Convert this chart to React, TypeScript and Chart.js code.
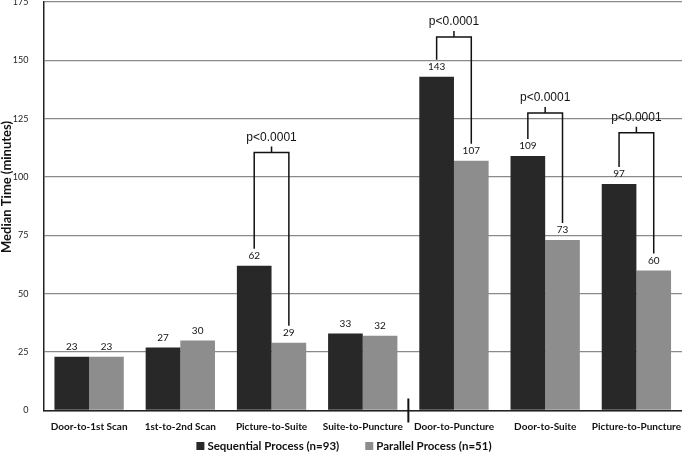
import React, { useEffect, useRef } from "react";
import { Chart, registerables } from "chart.js";

Chart.register(...registerables);

const categories = [
  "Door-to-1st Scan",
  "1st-to-2nd Scan",
  "Picture-to-Suite",
  "Suite-to-Puncture",
  "Door-to-Puncture",
  "Door-to-Suite",
  "Picture-to-Puncture",
];
const sequentialValues = [23, 27, 62, 33, 143, 109, 97];
const parallelValues = [23, 30, 29, 32, 107, 73, 60];
const seriesLabels = ["Sequential Process (n=93)", "Parallel Process (n=51)"];
const pValueLabels = ["", "", "p<0.0001", "", "p<0.0001", "p<0.0001", "p<0.0001"];
const bracketTops = [null, null, 110.5, null, 160, 127.5, 119];
const yTitle = "Median Time (minutes)";

const DARK = "#282828";
const LIGHT = "#8d8d8d";
const FONT = "Lato, 'Open Sans', sans-serif";
const SANS = "'Liberation Sans', Arial, sans-serif";

const annotationsPlugin = {
  id: "annotations",
  afterDatasetsDraw(chart: any) {
    const ctx = chart.ctx;
    const m0 = chart.getDatasetMeta(0);
    const m1 = chart.getDatasetMeta(1);
    const yScale = chart.scales.y;
    const xScale = chart.scales.x;
    ctx.save();
    // value labels
    ctx.fillStyle = "#111";
    ctx.font = `10px ${FONT}`;
    ctx.textAlign = "center";
    ctx.textBaseline = "middle";
    [m0, m1].forEach((meta: any, di: number) => {
      meta.data.forEach((bar: any, i: number) => {
        const v = chart.data.datasets[di].data[i];
        ctx.fillText(String(v), bar.x, bar.y - 10);
      });
    });
    // brackets
    ctx.strokeStyle = "#111";
    ctx.lineWidth = 1.5;
    bracketTops.forEach((top, i) => {
      if (top == null) return;
      const yTop = yScale.getPixelForValue(top);
      const b0 = m0.data[i];
      const b1 = m1.data[i];
      ctx.beginPath();
      ctx.moveTo(b0.x, b0.y - 17);
      ctx.lineTo(b0.x, yTop);
      ctx.lineTo(b1.x, yTop);
      ctx.lineTo(b1.x, b1.y - 17);
      const cx = (b0.x + b1.x) / 2;
      ctx.moveTo(cx, yTop);
      ctx.lineTo(cx, yTop - 6);
      ctx.stroke();
      ctx.fillStyle = "#111";
      ctx.font = `12px ${SANS}`;
      ctx.fillText(pValueLabels[i], cx, yTop - 15);
    });
    // separator mark between groups
    const sx = (xScale.getPixelForValue(3) + xScale.getPixelForValue(4)) / 2;
    const bottom = chart.chartArea.bottom;
    ctx.lineWidth = 2;
    ctx.beginPath();
    ctx.moveTo(sx, bottom - 12);
    ctx.lineTo(sx, bottom + 12);
    ctx.stroke();
    ctx.restore();
  },
  afterDraw(chart: any) {
    const ctx = chart.ctx;
    ctx.save();
    // y axis title
    ctx.font = `bold 13px ${FONT}`;
    ctx.fillStyle = "#111";
    ctx.textAlign = "center";
    ctx.textBaseline = "middle";
    ctx.translate(7, 187);
    ctx.rotate(-Math.PI / 2);
    ctx.fillText(yTitle, 0, 0);
    ctx.restore();

    // legend
    ctx.save();
    ctx.font = `bold 11.5px ${FONT}`;
    ctx.textBaseline = "middle";
    ctx.textAlign = "left";
    const box = 8;
    const gapText = 3;
    const gapItem = 26;
    const colors = [DARK, LIGHT];
    const widths = seriesLabels.map((t) => ctx.measureText(t).width);
    const total = widths.reduce((a, w) => a + box + gapText + w, 0) + gapItem;
    let x = chart.width / 2 + 3 - total / 2;
    const cy = 446;
    seriesLabels.forEach((t, i) => {
      ctx.fillStyle = colors[i];
      ctx.fillRect(x, cy - box / 2, box, box);
      ctx.fillStyle = "#111";
      ctx.fillText(t, x + box + gapText, cy + 0.5);
      x += box + gapText + widths[i] + gapItem;
    });
    ctx.restore();
  },
};

export default function App() {
  const ref = useRef<HTMLCanvasElement>(null);
  useEffect(() => {
    document.body.style.margin = "0";
    const chart = new Chart(ref.current as HTMLCanvasElement, {
      type: "bar",
      data: {
        labels: categories,
        datasets: [
          {
            label: seriesLabels[0],
            data: sequentialValues,
            backgroundColor: DARK,
            categoryPercentage: 0.76,
            barPercentage: 1,
          },
          {
            label: seriesLabels[1],
            data: parallelValues,
            backgroundColor: LIGHT,
            categoryPercentage: 0.76,
            barPercentage: 1,
          },
        ],
      },
      options: {
        animation: false,
        responsive: false,
        devicePixelRatio: 1,
        layout: { padding: { top: 2, right: 0, bottom: 22, left: 0 } },
        plugins: {
          legend: { display: false },
          tooltip: { enabled: false },
        },
        scales: {
          x: {
            grid: { display: false, drawTicks: false },
            border: { display: true, color: "#222", width: 1.5 },
            ticks: {
              color: "#111",
              font: { family: FONT, size: 10, weight: "bold" },
              padding: 10,
              maxRotation: 0,
              minRotation: 0,
              autoSkip: false,
            },
            afterFit(scale: any) {
              scale.height = 25.5;
              scale.paddingLeft = 0;
              scale.paddingRight = 0;
            },
          },
          y: {
            min: 0,
            max: 175,
            grid: { color: "#8a8a8a", lineWidth: 1.3, drawTicks: false },
            border: { display: true, color: "#222", width: 1.5 },
            ticks: {
              stepSize: 25,
              color: "#222",
              font: { family: FONT, size: 9 },
              padding: 15,
            },
            afterFit(scale: any) {
              scale.width = 43.5;
              scale.paddingTop = 0;
              scale.paddingBottom = 0;
            },
          },
        },
      },
      plugins: [annotationsPlugin],
    });
    return () => chart.destroy();
  }, []);
  return (
    <div style={{ width: 682, height: 458, background: "#fff" }}>
      <canvas ref={ref} width={682} height={458} style={{ display: "block" }} />
    </div>
  );
}
